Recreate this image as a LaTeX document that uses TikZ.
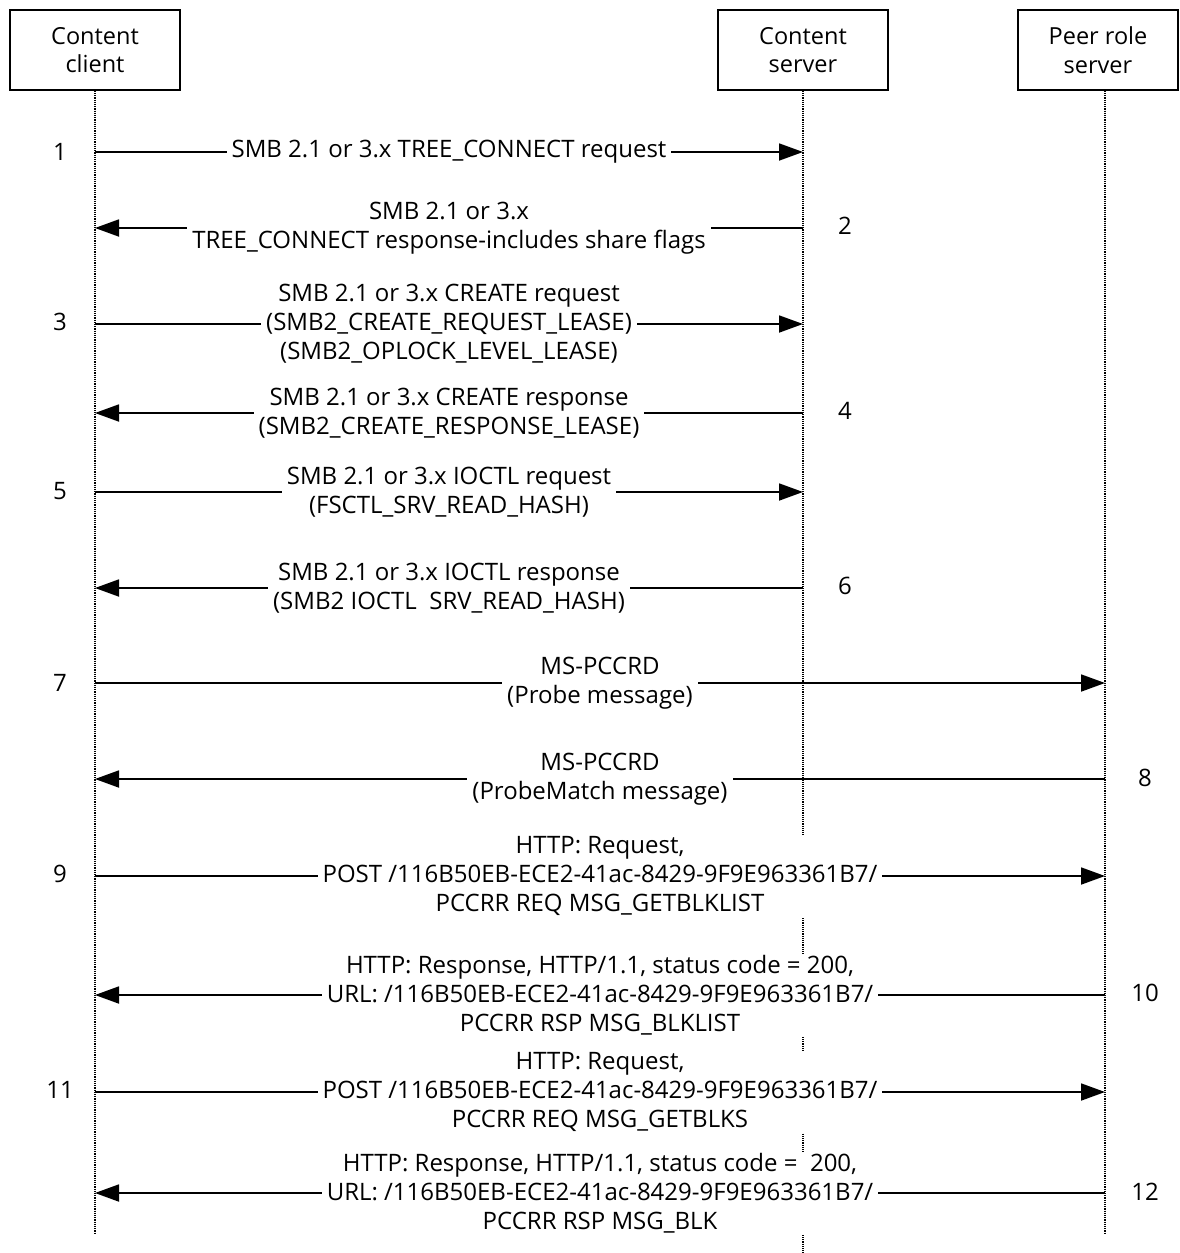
\documentclass[tikz,border=0pt]{standalone}
\usepackage{fontspec}
\setmainfont{Open Sans}
\usetikzlibrary{arrows.meta,positioning}

\begin{document}
\begin{tikzpicture}[x=1pt,y=-1pt,>={Triangle[length=24pt,width=17pt]},
  actor/.style={draw,line width=1.6pt,minimum width=170pt,minimum height=80pt,
    inner sep=0pt,align=center,font=\fontsize{23.5}{28.5}\selectfont},
  life/.style={densely dotted,line width=1.2pt},
  msg/.style={fill=white,align=center,inner xsep=5pt,inner ysep=1pt,
    font=\fontsize{24}{29}\selectfont},
  num/.style={font=\fontsize{24}{29}\selectfont},
  every edge/.style={draw,line width=1.8pt}]
  \useasboundingbox (0,0) rectangle (1179,1253);

  % participants
  \node[actor] (client) at (95,50)  {Content\\client};
  \node[actor] (server) at (803,50) {Content\\server};
  \node[actor, minimum width=160pt] (peer) at (1098,50) {Peer role\\server};

  \coordinate (cend) at (95,1233);
  \coordinate (send) at (803,1253);
  \coordinate (pend) at (1105,1233);
  \draw[life] (client.south) -- (cend);
  \draw[life] (server.south) -- (send);
  \draw[life] (peer.south -| pend) -- (pend);

  % message rows on each lifeline
  \foreach \n/\y in {1/152,2/228,3/324,4/413,5/492,6/588,7/683,8/779,
                     9/876,10/995,11/1092,12/1193} {
    \coordinate (c\n) at (95,\y);
    \coordinate (s\n) at (803,\y);
    \coordinate (p\n) at (1105,\y);
  }

  \path[->] (c1) edge node[msg] {SMB 2.1 or 3.x TREE\_CONNECT request} (s1);
  \path[->] (s2) edge node[msg] {SMB 2.1 or 3.x\\TREE\_CONNECT response-includes share flags} (c2);
  \path[->] (c3) edge node[msg] {SMB 2.1 or 3.x CREATE request\\(SMB2\_CREATE\_REQUEST\_LEASE)\\(SMB2\_OPLOCK\_LEVEL\_LEASE)} (s3);
  \path[->] (s4) edge node[msg] {SMB 2.1 or 3.x CREATE response\\(SMB2\_CREATE\_RESPONSE\_LEASE)} (c4);
  \path[->] (c5) edge node[msg] {SMB 2.1 or 3.x IOCTL request\\(FSCTL\_SRV\_READ\_HASH)} (s5);
  \path[->] (s6) edge node[msg] {SMB 2.1 or 3.x IOCTL response\\(SMB2 IOCTL \ SRV\_READ\_HASH)} (c6);
  \path[->] (c7) edge node[msg] {MS-PCCRD\\(Probe message)} (p7);
  \path[->] (p8) edge node[msg] {MS-PCCRD\\(ProbeMatch message)} (c8);
  \path[->] (c9) edge node[msg] {HTTP: Request,\\POST /116B50EB-ECE2-41ac-8429-9F9E963361B7/\\PCCRR REQ MSG\_GETBLKLIST} (p9);
  \path[->] (p10) edge node[msg] {HTTP: Response, HTTP/1.1, status code = 200,\\URL: /116B50EB-ECE2-41ac-8429-9F9E963361B7/\\PCCRR RSP MSG\_BLKLIST} (c10);
  \path[->] (c11) edge node[msg] {HTTP: Request,\\POST /116B50EB-ECE2-41ac-8429-9F9E963361B7/\\PCCRR REQ MSG\_GETBLKS} (p11);
  \path[->] (p12) edge node[msg] {HTTP: Response, HTTP/1.1, status code = \ 200,\\URL: /116B50EB-ECE2-41ac-8429-9F9E963361B7/\\PCCRR RSP MSG\_BLK} (c12);

  % step numbers
  \node[num] (n1)  at (60,152)   {1};
  \node[num] (n2)  at (845,226)  {2};
  \node[num] (n3)  at (60,322)   {3};
  \node[num] (n4)  at (845,411)  {4};
  \node[num] (n5)  at (60,491)   {5};
  \node[num] (n6)  at (845,586)  {6};
  \node[num] (n7)  at (60,683)   {7};
  \node[num] (n8)  at (1145,778) {8};
  \node[num] (n9)  at (60,874)   {9};
  \node[num] (n10) at (1145,993) {10};
  \node[num] (n11) at (60,1090)  {11};
  \node[num] (n12) at (1145,1192) {12};
\end{tikzpicture}
\end{document}
